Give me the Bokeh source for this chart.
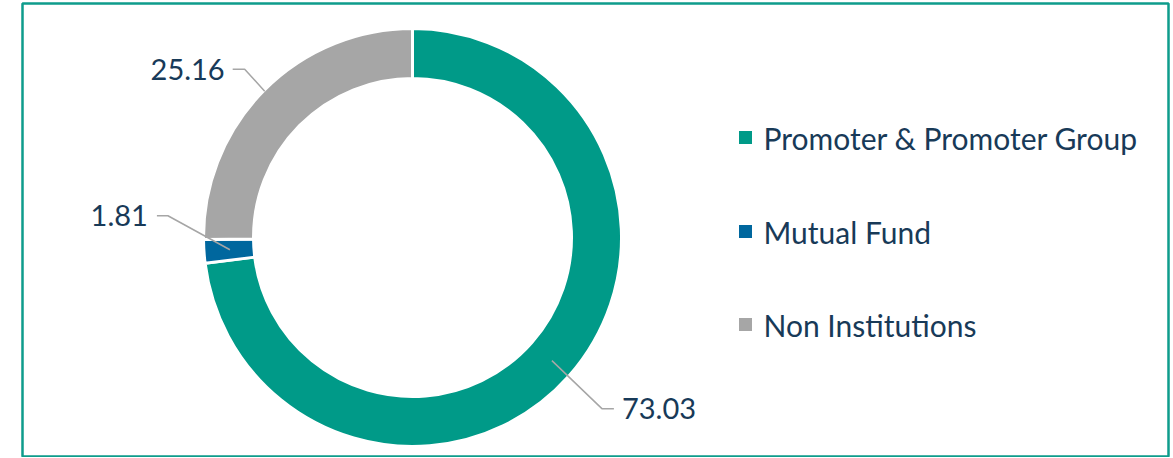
import math
from bokeh.plotting import figure
from bokeh.models import Range1d
from bokeh.core.properties import value
from bokeh.embed import file_html
from bokeh.resources import INLINE

# ---- data ----
categories = ["Promoter & Promoter Group", "Mutual Fund", "Non Institutions"]
values = [73.03, 1.81, 25.16]
labels = ["73.03", "1.81", "25.16"]

# ---- style / layout ----
colors = ["#009A88", "#00679E", "#A6A6A6"]
text_color = "#183A58"
font = "Lato"
W, H = 1170, 457
BL, BR, BT, BB = 22, 2, 3, 1
cx, cy = 412, -237          # screen coords, y negated
r_out, r_in = 209, 159
anchor_r = [186, 183, 208]
elbow_off = [(50, -48), (-62, 34), (-20, 22)]
tail = [12, -11, -12]
label_gap = [8, -9, -8]

p = figure(width=W, height=H, output_backend="svg", toolbar_location=None,
           x_range=Range1d(BL, W - BR), y_range=Range1d(-(H - BB), -BT),
           min_border=0, min_border_left=BL, min_border_right=BR,
           min_border_top=BT, min_border_bottom=BB,
           outline_line_color="#0E9C8C", outline_line_width=2.5,
           background_fill_color="white", border_fill_color="white")
p.axis.visible = False
p.grid.visible = False

total = sum(values)
start = math.pi / 2
starts, ends, mids = [], [], []
for v in values:
    end = start - v / total * 2 * math.pi
    starts.append(start)
    ends.append(end)
    mids.append((start + end) / 2)
    start = end

p.annular_wedge(x=[cx] * 3, y=[cy] * 3, inner_radius=r_in, outer_radius=r_out,
                start_angle=starts, end_angle=ends, direction="clock",
                fill_color=colors, line_color="white", line_width=3)

# leader lines and labels
for i, lab in enumerate(labels):
    ax = cx + anchor_r[i] * math.cos(mids[i])
    ay = cy + anchor_r[i] * math.sin(mids[i])
    ex = ax + elbow_off[i][0]
    ey = ay + elbow_off[i][1]
    tx = ex + tail[i]
    p.line([ax, ex, tx], [ay, ey, ey], line_color="#A6A6A6", line_width=1.5)
    p.text(x=[tx + label_gap[i]], y=[ey], text=[lab],
           text_align="left" if tail[i] > 0 else "right",
           text_baseline="middle", text_font=value(font),
           text_font_size="29px", text_color=text_color)

# legend
leg_y = [-137, -231, -324]
p.scatter(x=[745] * 3, y=leg_y, marker="square", size=13, fill_color=colors,
          line_color=None)
p.text(x=[763] * 3, y=leg_y, text=categories, text_baseline="middle",
       text_font=value(font), text_font_size="30px", text_color=text_color)

open("out.html", "w").write(file_html(p, INLINE))
